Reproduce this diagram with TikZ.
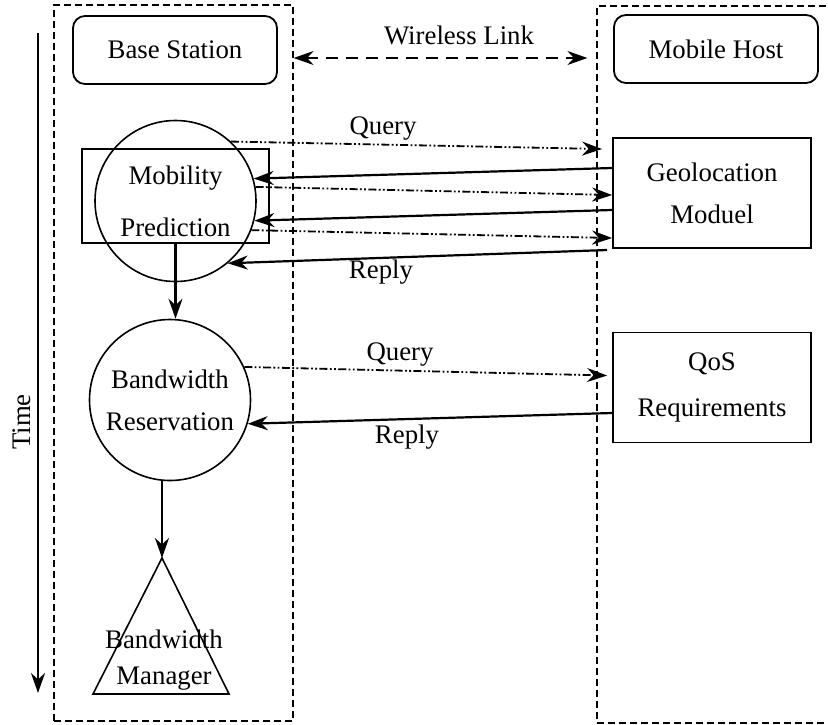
\documentclass[tikz,border=0pt]{standalone}
\usepackage{fontspec}
\setmainfont{Liberation Serif}
\newfontfamily\timesfont{Liberation Serif}
\usetikzlibrary{arrows.meta,positioning}

\begin{document}
\begin{tikzpicture}[x=0.5pt, y=-0.5pt, >={Stealth[length=10pt,width=7pt]}]

\tikzstyle{every node}=[font=\timesfont\fontsize{13.4}{21}\selectfont, align=center]
\tikzstyle{zone}=[draw, line width=0.6pt, dash pattern=on 3.5pt off 2pt, inner sep=0pt]
\tikzstyle{station}=[draw, rounded corners=6pt, line width=0.9pt, minimum width=102pt, minimum height=34pt]
\tikzstyle{unit}=[draw, line width=0.9pt, minimum width=99pt, minimum height=55pt]
\tikzstyle{task}=[draw, circle, line width=0.8pt, minimum size=80.5pt, inner sep=0pt]
\tikzstyle{query}=[->, line width=0.9pt, dash pattern=on 4pt off 1.2pt on 0.9pt off 1.2pt on 0.9pt off 1.2pt]
\tikzstyle{reply}=[->, line width=1.1pt]

\clip (0,0) rectangle (828,724);

% the two sides
\node[zone, minimum width=119.5pt, minimum height=358pt] (bside) at (173.5,363) {};
\node[zone, minimum width=120pt, minimum height=358.5pt] (mside) at (717,364.5) {};

\node[station] (bs) at (175,50) {Base Station};
\node[station] (mh) at (716,49) {Mobile Host};

\coordinate (wl) at (0,58);
\draw[<->, line width=0.9pt, dash pattern=on 6pt off 4pt, shorten >=4.5pt] (bside.east |- wl) -- (mside.west |- wl);
\node (wlink) at (459,35) {Wireless Link};

% time axis
\coordinate (t0) at (38,33);
\coordinate (t1) at (38,693);
\draw[->, line width=1.1pt] (t0) -- (t1);
\node[rotate=90] (time) at (22,422) {Time};

% base station side
\node[draw, line width=0.9pt, minimum width=93.5pt, minimum height=47pt] (mpbox) at (175.5,196) {};
\node[task] (mp) at (175.5,201) {Mobility\\[5pt]Prediction};
\node[task] (br) at (170,400) {Bandwidth\\Reservation};
\coordinate (bm) at (162,558);
\draw[line width=0.8pt] (bm) -- (93,694) -- (229,694) -- cycle;
\node (bmtext) at (164,660) {Bandwidth\\[-3pt]Manager};

\draw[reply] (mpbox.south) -- (mpbox.south |- br.north);
\draw[reply] (br.south -| bm) -- (bm);

% mobile host side
\node[unit] (gm) at (712,193) {Geolocation\\Moduel};
\node[unit] (qos) at (712,387.5) {QoS\\[2pt]Requirements};

% messages
\draw[query] (mp.47) -- ([xshift=-5pt,yshift=22pt]gm.west);
\draw[reply] ([yshift=12.5pt]gm.west) -- (mp.16);
\draw[query] (mp.10) -- ([yshift=-1pt]gm.west);
\draw[reply] ([yshift=-8.5pt]gm.west) -- (mp.-14);
\draw[query] (mp.-21) -- ([yshift=-22.5pt]gm.west);
\draw[reply] ([xshift=-2.5pt,yshift=-28.5pt]gm.west) -- (mp.-50);
\node (q1) at (383,129) {Query};
\node (r1) at (381,272) {Reply};

\draw[query] (br.24) -- ([xshift=-2.5pt,yshift=6pt]qos.west);
\draw[reply] ([yshift=-12.75pt]qos.west) -- (br.-17);
\node (q2) at (400,355) {Query};
\node (r2) at (407,437) {Reply};

\end{tikzpicture}
\end{document}
